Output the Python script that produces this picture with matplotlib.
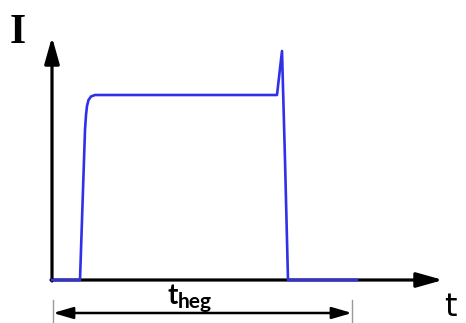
import numpy as np
import matplotlib
matplotlib.use("Agg")
import matplotlib.pyplot as plt

# Current pulse: time and current in drawing units, origin at the axes corner
t_pulse = [0, 28, 30, 32, 33, 34, 35, 36.5, 39, 43, 48, 225, 230, 233, 236, 305]
i_pulse = [0, 0, 60, 120, 150, 165, 174, 180, 183.5, 185, 185, 185, 229, 120, 0, 0]

# Dimension line for the heating time
t_heg_start = 1
t_heg_end = 300

x0, y0 = 52, 43          # axes corner in figure pixels
x_axis_len = 391
y_axis_len = 243

blue = "#3030e8"

fig = plt.figure(figsize=(4.66, 3.23), dpi=100)
ax = fig.add_axes([0, 0, 1, 1])
ax.set_xlim(0, 466)
ax.set_ylim(0, 323)
ax.axis("off")

# axes arrows
arrow = dict(arrowstyle="-|>,head_length=1.6,head_width=0.45", color="black",
             lw=2.3, shrinkA=0, shrinkB=0)
ax.annotate("", xy=(x0 + x_axis_len, y0), xytext=(x0 - 1, y0), arrowprops=arrow)
ax.annotate("", xy=(x0, y0 + y_axis_len), xytext=(x0, y0 - 1), arrowprops=arrow)

# pulse
ax.plot(np.array(t_pulse) + x0, np.array(i_pulse) + y0, color=blue, lw=1.9,
        solid_joinstyle="round", zorder=3)

# dimension arrow
dim_y = 10
ax.annotate("", xy=(x0 + t_heg_end, dim_y), xytext=(x0 + t_heg_start, dim_y),
            arrowprops=dict(arrowstyle="<|-|>,head_length=1.2,head_width=0.35",
                            color="black", lw=1.8, shrinkA=0, shrinkB=0))
for xv in (t_heg_start, t_heg_end):
    ax.plot([x0 + xv, x0 + xv], [0, 23], color="#999999", lw=1)

ax.text(167, 19, "t", fontsize=20, fontweight="bold", family="Lato",
        ha="left", va="baseline")
ax.text(178, 15, "heg", fontsize=15, fontweight="bold", family="Lato",
        ha="left", va="baseline")

# axis labels
ax.text(10, 280, "I", fontsize=30, fontweight="bold", family="Liberation Serif",
        ha="left", va="baseline")
ax.text(444, 0.5, "t", fontsize=23, family="DejaVu Sans", ha="left",
        va="bottom")

fig.savefig("out.png", dpi=100)
